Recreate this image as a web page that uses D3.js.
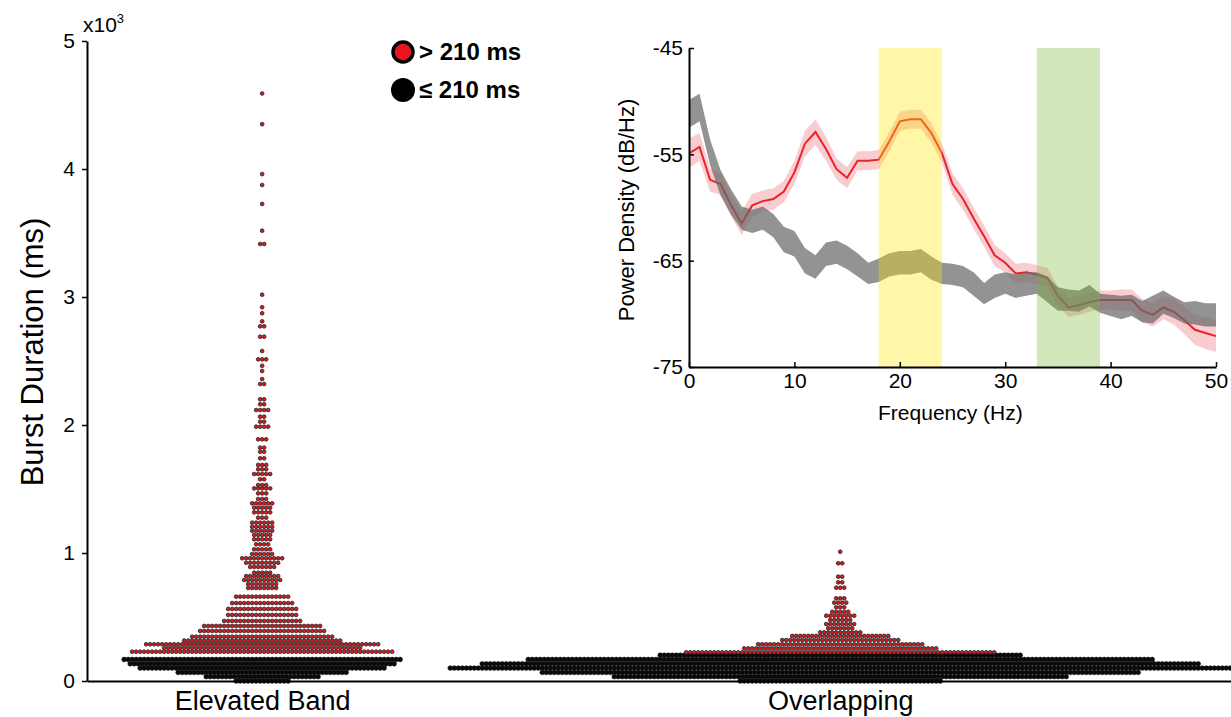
<!DOCTYPE html>
<html>
<head>
<meta charset="utf-8">
<script src="https://cdn.jsdelivr.net/npm/d3@7"></script>
<style>
  body { margin: 0; background: #fff; }
  svg { display: block; font-family: "Liberation Sans", Arial, Helvetica, sans-serif; }
</style>
</head>
<body>
<svg id="chart" width="1231" height="717"></svg>
<script>
// ---- Burst duration swarm data (one row per duration bin: value in ms, number of bursts) ----
const categories = ["Elevated Band", "Overlapping"];

const elevatedDurations = [0, 34, 67, 101, 134, 168,
  229, 258, 287, 316, 346, 391, 430, 469, 516, 563, 609, 659, 727, 758, 789, 820, 846, 891, 924, 959, 992,
  1029, 1068, 1107, 1141, 1174, 1205, 1237, 1276, 1318, 1354, 1388, 1422, 1466, 1505, 1531, 1576,
  1617, 1654, 1688, 1740, 1791, 1823, 1888, 1987, 2026, 2065, 2117, 2162, 2201, 2320, 2359, 2422,
  2463, 2513, 2578, 2690, 2771, 2810, 2873, 2920, 3018, 3414, 3518, 3727, 3875, 3960, 4350, 4590];
const elevatedCounts = [14, 29, 43, 62, 67, 70,
  66, 50, 59, 40, 36, 32, 30, 20, 18, 18, 16, 14, 8, 8, 10, 9, 5, 7, 9, 11, 6,
  5, 4, 5, 5, 6, 6, 6, 3, 5, 5, 6, 3, 3, 5, 3, 2,
  5, 3, 3, 2, 2, 2, 3, 4, 2, 2, 4, 2, 2, 2, 1, 1,
  1, 3, 1, 2, 2, 1, 1, 1, 1, 2, 1, 1, 1, 1, 1, 1];

const overlappingDurations = [0, 34, 67, 101, 134, 168, 201,
  224, 255, 287, 320, 352, 380, 412, 445, 477, 510, 541, 576, 612, 646, 729, 771, 815, 920, 1010];
const overlappingCounts = [51, 114, 150, 196, 180, 157, 91,
  78, 49, 42, 30, 25, 11, 7, 8, 6, 8, 5, 3, 4, 3, 3, 2, 2, 2, 1];

const durationTicks = [0, 1000, 2000, 3000, 4000, 5000];
const thresholdMs = 210;
const legendLabels = ["> 210 ms", "\u2264 210 ms"];

// ---- Power spectra (inset) ----
const frequencies = d3.range(0, 51);
const longMean = [-54.9,-54.3,-57.4,-57.8,-59.8,-61.5,-59.8,-59.4,-59.2,-58.5,
  -56.7,-54.0,-52.9,-54.5,-56.4,-57.2,-55.6,-55.6,-55.5,-53.8,
  -51.9,-51.7,-51.7,-53.0,-54.9,-57.8,-59.2,-61.0,-62.7,-64.5,
  -65.2,-66.2,-66.1,-66.3,-66.6,-68.3,-69.4,-69.2,-68.9,-68.7,
  -68.7,-68.7,-68.7,-69.7,-70.1,-69.4,-69.8,-70.6,-71.5,-71.8,-72.1];
const longSem = [1.4,1.3,1.1,1.0,1.0,1.1,1.1,1.0,1.0,1.0,
  1.1,1.2,1.2,1.1,1.0,1.0,0.9,0.9,0.9,0.9,
  0.9,0.9,0.9,0.9,0.9,1.0,1.0,1.0,1.0,1.0,
  0.9,0.9,0.9,0.9,0.9,0.9,0.9,0.9,0.9,0.9,
  0.9,1.0,1.0,1.1,1.1,1.1,1.2,1.3,1.4,1.5,1.5];
const shortMean = [-51.2,-50.6,-54.8,-57.7,-59.5,-61.0,-61.3,-61.0,-61.7,-63.0,
  -63.4,-65.0,-65.6,-64.4,-64.2,-64.7,-65.4,-66.2,-65.9,-65.4,
  -65.2,-65.2,-65.0,-65.7,-66.2,-66.3,-66.5,-67.2,-68.1,-67.4,
  -67.1,-67.4,-67.2,-67.1,-67.7,-68.6,-68.7,-68.8,-68.3,-69.0,
  -69.2,-69.4,-69.2,-69.8,-69.6,-68.9,-69.4,-69.9,-69.9,-70.1,-70.1];
const shortSem = [1.3,1.3,1.2,1.2,1.2,1.1,1.1,1.1,1.1,1.2,
  1.2,1.2,1.1,1.1,1.1,1.1,1.1,1.0,1.1,1.1,
  1.1,1.1,1.1,1.1,1.0,1.0,1.0,1.1,1.0,1.1,
  1.0,1.1,1.1,1.0,1.2,1.1,1.0,1.0,1.0,0.9,
  1.0,1.1,1.0,1.0,1.3,1.1,1.0,1.0,1.1,1.1,1.1];
const betaBand = [18, 24];
const gammaBand = [33, 39];
const freqTicks = [0, 10, 20, 30, 40, 50];
const powerTicks = [-45, -55, -65, -75];

// ---- Main swarm axes ----
const svg = d3.select("#chart");
const x = d3.scaleLinear().domain([0.697, 2.676]).range([87, 1231]);
const y = d3.scaleLinear().domain([0, 5000]).range([681, 41]);
const dotStep = 4;

const groups = [
  { name: categories[0], pos: 1, values: elevatedDurations, counts: elevatedCounts },
  { name: categories[1], pos: 2, values: overlappingDurations, counts: overlappingCounts }
];

const dots = [];
groups.forEach(g => {
  g.values.forEach((v, k) => {
    const n = g.counts[k];
    for (let i = 0; i < n; i++) {
      dots.push({ cx: x(g.pos) + (i - (n - 1) / 2) * dotStep, v });
    }
  });
});

const swarm = svg.append("g");
swarm.selectAll("circle.short").data(dots.filter(d => d.v <= thresholdMs)).join("circle")
  .attr("class", "short")
  .attr("cx", d => d.cx).attr("cy", d => y(d.v)).attr("r", 2.4)
  .attr("fill", "#0a0a0a").attr("stroke", "#111").attr("stroke-width", 0.5);
swarm.selectAll("circle.long").data(dots.filter(d => d.v > thresholdMs)).join("circle")
  .attr("class", "long")
  .attr("cx", d => d.cx).attr("cy", d => y(d.v)).attr("r", 1.85)
  .attr("fill", "#e8151c").attr("stroke", "#2b2b2b").attr("stroke-width", 0.9);

// y axis
const yAxis = svg.append("g").attr("transform", "translate(87,0)")
  .call(d3.axisLeft(y).tickValues(durationTicks).tickFormat(d => d / 1000).tickSize(5).tickSizeOuter(0));
yAxis.select(".domain").attr("stroke", "#000").attr("stroke-width", 2);
yAxis.selectAll(".tick line").attr("stroke", "#000").attr("stroke-width", 1.5);
yAxis.selectAll(".tick text").attr("font-size", 21).attr("fill", "#000").attr("x", -12)
  .attr("font-family", "Liberation Sans, Arial, sans-serif");

// x axis baseline and category labels
const xAxis = svg.append("g").attr("transform", "translate(0,681)")
  .call(d3.axisBottom(x).tickValues(groups.map(g => g.pos)).tickFormat((d, i) => categories[i]).tickSize(0).tickSizeOuter(0));
xAxis.select(".domain").attr("stroke", "#000").attr("stroke-width", 2);
xAxis.selectAll(".tick text").attr("font-size", 27).attr("fill", "#000").attr("dy", "0.95em")
  .attr("font-family", "Liberation Sans, Arial, sans-serif");

// exponent label
const expo = svg.append("text").attr("x", 83).attr("y", 32).attr("font-size", 21).attr("fill", "#000");
expo.append("tspan").text("x10");
expo.append("tspan").attr("font-size", 13).attr("dy", -9).text("3");

svg.append("text")
  .attr("transform", "translate(43,352) rotate(-90)")
  .attr("text-anchor", "middle").attr("font-size", 31).attr("fill", "#000")
  .text("Burst Duration (ms)");

// legend
const legend = svg.append("g");
legend.append("circle").attr("cx", 403).attr("cy", 52).attr("r", 10)
  .attr("fill", "#e8151c").attr("stroke", "#000").attr("stroke-width", 3.5);
legend.append("circle").attr("cx", 403).attr("cy", 90).attr("r", 12).attr("fill", "#000");
legend.selectAll("text.lab").data(legendLabels).join("text").attr("class", "lab")
  .attr("x", 419).attr("y", (d, i) => 60 + i * 38)
  .attr("font-size", 24).attr("font-weight", "bold").attr("fill", "#000")
  .text(d => d);

// ---- Inset: power spectral density ----
const fx = d3.scaleLinear().domain([0, 50]).range([689, 1216]);
const py = d3.scaleLinear().domain([-75, -45]).range([367, 48]);
const inset = svg.append("g");

const bandArea = (mean, sem) => d3.area()
  .x((d, i) => fx(frequencies[i]))
  .y0((d, i) => py(mean[i] - sem[i]))
  .y1((d, i) => py(mean[i] + sem[i]));

inset.append("path").datum(longMean).attr("d", bandArea(longMean, longSem))
  .attr("fill", "rgba(236,95,105,0.32)").attr("stroke", "none");
inset.append("path").datum(longMean)
  .attr("d", d3.line().x((d, i) => fx(frequencies[i])).y(d => py(d)))
  .attr("fill", "none").attr("stroke", "#e8232a").attr("stroke-width", 2);
inset.append("path").datum(shortMean).attr("d", bandArea(shortMean, shortSem))
  .attr("fill", "rgba(105,105,105,0.72)").attr("stroke", "none");

[[betaBand, "rgba(255,228,0,0.34)"], [gammaBand, "rgba(118,184,48,0.33)"]].forEach(([b, c]) => {
  inset.append("rect")
    .attr("x", fx(b[0])).attr("width", fx(b[1]) - fx(b[0]))
    .attr("y", py(-45)).attr("height", py(-75) - py(-45))
    .attr("fill", c);
});

const fAxis = inset.append("g").attr("transform", "translate(0,367)")
  .call(d3.axisBottom(fx).tickValues(freqTicks).tickFormat(d => String(d)).tickSize(-5).tickSizeOuter(0).tickPadding(6));
const pAxis = inset.append("g").attr("transform", "translate(689,0)")
  .call(d3.axisLeft(py).tickValues(powerTicks).tickFormat(d => String(d)).tickSize(-5).tickSizeOuter(0).tickPadding(6));
[fAxis, pAxis].forEach(a => {
  a.select(".domain").attr("stroke", "#000").attr("stroke-width", 2);
  a.selectAll(".tick line").attr("stroke", "#000").attr("stroke-width", 1.5);
  a.selectAll(".tick text").attr("font-size", 21).attr("fill", "#000")
    .attr("font-family", "Liberation Sans, Arial, sans-serif");
});

inset.append("text").attr("x", fx(24.8)).attr("y", 420).attr("text-anchor", "middle")
  .attr("font-size", 21).attr("fill", "#000").text("Frequency (Hz)");
inset.append("text").attr("transform", "translate(634,210) rotate(-90)")
  .attr("text-anchor", "middle").attr("font-size", 22).attr("fill", "#000")
  .text("Power Density (dB/Hz)");
</script>
</body>
</html>
